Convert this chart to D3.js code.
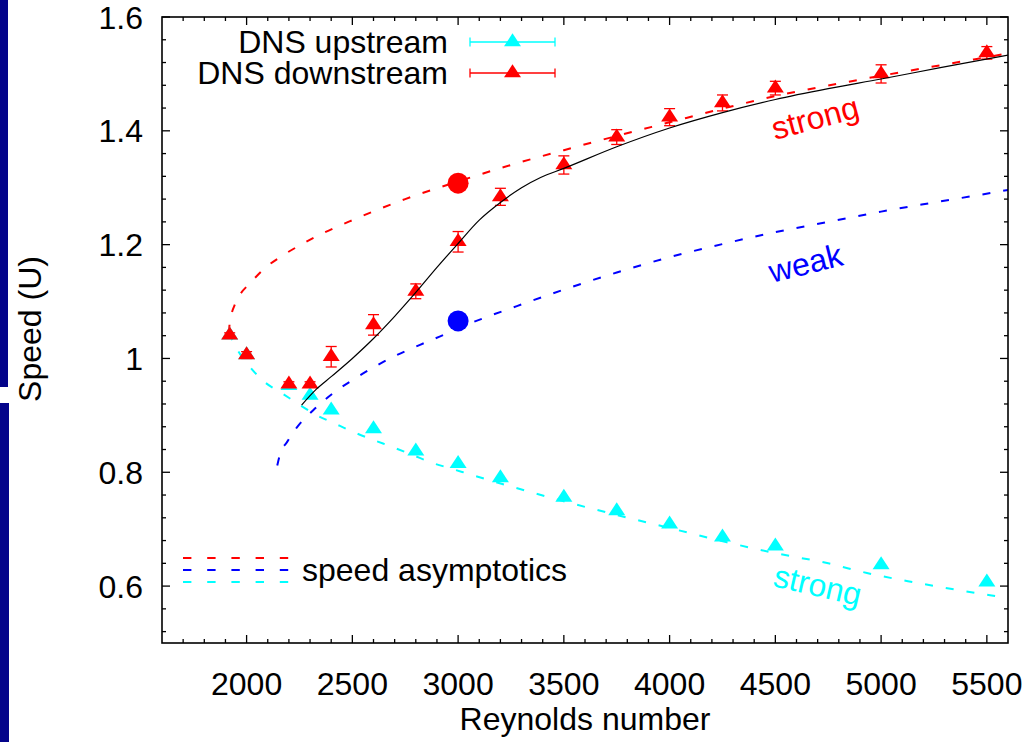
<!DOCTYPE html>
<html><head><meta charset="utf-8">
<script src="https://cdn.jsdelivr.net/npm/d3@7"></script>
<style>
html,body{margin:0;padding:0;background:#fff;}
svg{display:block;}
text{font-family:"Liberation Sans", Arial, Helvetica, sans-serif;}
</style></head><body>
<svg id="chart" width="1028" height="742"></svg>
<script>
// DNS runs, downstream speed with error bars
const reDown    = [1920, 2000, 2200, 2300, 2400, 2600, 2800, 3000, 3200, 3500, 3750, 4000, 4250, 4500, 5000, 5500];
const speedDown = [1.041, 1.006, 0.955, 0.955, 1.003, 1.059, 1.118, 1.205, 1.284, 1.340, 1.389, 1.424, 1.449, 1.475, 1.500, 1.537];
const errDown   = [0.004, 0.006, 0.004, 0.004, 0.018, 0.018, 0.013, 0.018, 0.015, 0.016, 0.013, 0.015, 0.014, 0.012, 0.016, 0.011];

// DNS runs, upstream speed
const reUp    = [1920, 2000, 2200, 2300, 2400, 2600, 2800, 3000, 3200, 3500, 3750, 4000, 4250, 4500, 5000, 5500];
const speedUp = [1.041, 1.006, 0.952, 0.935, 0.909, 0.876, 0.837, 0.815, 0.790, 0.756, 0.732, 0.709, 0.686, 0.670, 0.637, 0.607];

// Speed asymptotics: strong downstream branch
const strongDownRe = [1916, 1920, 1930, 1945, 1959, 2021, 2087, 2158, 2238, 2323, 2500, 2750, 3000, 3250, 3500, 3750, 4000, 4250, 4500, 4886, 5278, 5600];
const strongDownU  = [1.045, 1.062, 1.080, 1.095, 1.106, 1.134, 1.159, 1.178, 1.196, 1.213, 1.243, 1.280, 1.311, 1.340, 1.366, 1.391, 1.415, 1.439, 1.461, 1.489, 1.515, 1.536];

// Speed asymptotics: weak branch
const weakRe = [2145, 2160, 2191, 2238, 2315, 2409, 2522, 2617, 2711, 2820, 2929, 3000, 3136, 3278, 3500, 3750, 4000, 4250, 4500, 4750, 5000, 5250, 5538, 5600];
const weakU  = [0.812, 0.834, 0.853, 0.879, 0.909, 0.939, 0.967, 0.988, 1.006, 1.024, 1.041, 1.053, 1.073, 1.092, 1.121, 1.151, 1.178, 1.201, 1.222, 1.240, 1.258, 1.274, 1.292, 1.296];

// Speed asymptotics: strong upstream branch
const strongUpRe = [1916, 1935, 1960, 2016, 2087, 2167, 2252, 2333, 2409, 2503, 2598, 2692, 2787, 2882, 2962, 3250, 3500, 3750, 4000, 4271, 4498, 4750, 4933, 5151, 5350, 5515, 5600];
const strongUpU  = [1.045, 1.030, 1.013, 0.985, 0.958, 0.939, 0.918, 0.900, 0.887, 0.871, 0.857, 0.844, 0.830, 0.816, 0.807, 0.775, 0.749, 0.725, 0.702, 0.677, 0.658, 0.640, 0.623, 0.607, 0.594, 0.584, 0.579];

// Fit through the downstream speed
const fitRe = [2260, 2330, 2400, 2500, 2600, 2700, 2800, 2900, 3000, 3100, 3200, 3300, 3390, 3500, 3750, 4000, 4250, 4500, 4750, 5000, 5280, 5600];
const fitU  = [0.918, 0.946, 0.968, 1.000, 1.035, 1.074, 1.116, 1.160, 1.202, 1.243, 1.274, 1.300, 1.318, 1.334, 1.372, 1.405, 1.432, 1.455, 1.474, 1.491, 1.511, 1.533];

// Highlighted runs at Re = 3000
const markRe = [3000, 3000];
const markU  = [1.308, 1.066];
const markColor = ["#ff0000", "#0000ff"];

// Axis ticks
const xTicks = [2000, 2500, 3000, 3500, 4000, 4500, 5000, 5500];
const yTicks = [0.6, 0.8, 1.0, 1.2, 1.4, 1.6];

const svg = d3.select("#chart");
const W = 1028, H = 742;
const L = 162, R = 1008, T = 17, B = 643;
const FS = 32;

svg.append("rect").attr("width", W).attr("height", H).attr("fill", "#fff");

// side strip
svg.append("rect").attr("x", 0).attr("y", 0).attr("width", 8).attr("height", 387).attr("fill", "#04048a");
svg.append("rect").attr("x", 0).attr("y", 403).attr("width", 9).attr("height", H - 403).attr("fill", "#04048a");

const x = d3.scaleLinear().domain([1600, 5600]).range([L, R]);
const y = d3.scaleLinear().domain([0.5, 1.6]).range([B, T]);

const clipId = "plotclip";
svg.append("defs").append("clipPath").attr("id", clipId)
  .append("rect").attr("x", L).attr("y", T).attr("width", R - L).attr("height", B - T);

// ticks (inward, mirrored)
const xMinor = d3.range(1700, 5600, 100).filter(v => v % 500 !== 0);
const yMinor = d3.range(0.52, 1.6, 0.04).map(v => +v.toFixed(2)).filter(v => Math.abs(v * 5 - Math.round(v * 5)) > 1e-6);

const tk = svg.append("g").attr("stroke", "#000").attr("stroke-width", 1.3);
xTicks.forEach(v => {
  tk.append("line").attr("x1", x(v)).attr("x2", x(v)).attr("y1", B).attr("y2", B - 8);
  tk.append("line").attr("x1", x(v)).attr("x2", x(v)).attr("y1", T).attr("y2", T + 8);
});
xMinor.forEach(v => {
  tk.append("line").attr("x1", x(v)).attr("x2", x(v)).attr("y1", B).attr("y2", B - 4);
  tk.append("line").attr("x1", x(v)).attr("x2", x(v)).attr("y1", T).attr("y2", T + 4);
});
yTicks.forEach(v => {
  tk.append("line").attr("x1", L).attr("x2", L + 8).attr("y1", y(v)).attr("y2", y(v));
  tk.append("line").attr("x1", R).attr("x2", R - 8).attr("y1", y(v)).attr("y2", y(v));
});
yMinor.forEach(v => {
  tk.append("line").attr("x1", L).attr("x2", L + 4).attr("y1", y(v)).attr("y2", y(v));
  tk.append("line").attr("x1", R).attr("x2", R - 4).attr("y1", y(v)).attr("y2", y(v));
});

// tick labels
const lab = svg.append("g").attr("font-size", FS).attr("fill", "#000");
xTicks.forEach(v => {
  lab.append("text").attr("x", x(v)).attr("y", 695).attr("text-anchor", "middle").text(d3.format("d")(v));
});
yTicks.forEach(v => {
  lab.append("text").attr("x", 143).attr("y", y(v) + 11.5).attr("text-anchor", "end").text(d3.format("~g")(v));
});
lab.append("text").attr("x", (L + R) / 2).attr("y", 730).attr("text-anchor", "middle").text("Reynolds number");
lab.append("text").attr("transform", "translate(41," + 329 + ") rotate(-90)").attr("text-anchor", "middle").text("Speed (U)");

const area = svg.append("g").attr("clip-path", "url(#" + clipId + ")");

const line = d3.line().x(d => x(d[0])).y(d => y(d[1])).curve(d3.curveMonotoneX);
const zip = (a, b) => a.map((v, i) => [v, b[i]]);

// asymptotic curves
const dash = "8,13";
area.append("path").attr("d", line(zip(strongUpRe, strongUpU))).attr("fill", "none").attr("stroke", "#00ffff").attr("stroke-width", 2).attr("stroke-dasharray", dash);
area.append("path").attr("d", line(zip(weakRe, weakU))).attr("fill", "none").attr("stroke", "#0000ff").attr("stroke-width", 2).attr("stroke-dasharray", dash);
area.append("path").attr("d", line(zip(strongDownRe, strongDownU))).attr("fill", "none").attr("stroke", "#ff0000").attr("stroke-width", 2).attr("stroke-dasharray", dash);

// triangle with its centroid at (cx, cy)
const TW = 17, TH = 13;
function tri(cx, cy) {
  return "M" + cx + "," + (cy - TH * 2 / 3) + "L" + (cx - TW / 2) + "," + (cy + TH / 3) + "L" + (cx + TW / 2) + "," + (cy + TH / 3) + "Z";
}

// upstream points
reUp.forEach((r, i) => {
  area.append("path").attr("d", tri(x(r), y(speedUp[i]))).attr("fill", "#00ffff");
});

// downstream points with error bars
const eb = area.append("g").attr("stroke", "#ff0000").attr("stroke-width", 1.3);
reDown.forEach((r, i) => {
  const cx = x(r), y0 = y(speedDown[i] - errDown[i]), y1 = y(speedDown[i] + errDown[i]);
  eb.append("line").attr("x1", cx).attr("x2", cx).attr("y1", y0).attr("y2", y1);
  eb.append("line").attr("x1", cx - 5.5).attr("x2", cx + 5.5).attr("y1", y0).attr("y2", y0);
  eb.append("line").attr("x1", cx - 5.5).attr("x2", cx + 5.5).attr("y1", y1).attr("y2", y1);
});
reDown.forEach((r, i) => {
  area.append("path").attr("d", tri(x(r), y(speedDown[i]))).attr("fill", "#ff0000");
});

// highlighted runs
markRe.forEach((r, i) => {
  area.append("circle").attr("cx", x(r)).attr("cy", y(markU[i])).attr("r", 10.5).attr("fill", markColor[i]);
});

// fit
area.append("path").attr("d", line(zip(fitRe, fitU))).attr("fill", "none").attr("stroke", "#000").attr("stroke-width", 1.2);

// frame
svg.append("rect").attr("x", L).attr("y", T).attr("width", R - L).attr("height", B - T)
  .attr("fill", "none").attr("stroke", "#000").attr("stroke-width", 1.6);

// branch labels
const tl = svg.append("g").attr("font-size", FS);
tl.append("text").attr("transform", "translate(775,140) rotate(-15)").attr("fill", "#ff0000").text("strong");
tl.append("text").attr("transform", "translate(772,283) rotate(-14)").attr("fill", "#0000ff").text("weak");
tl.append("text").attr("transform", "translate(772,586) rotate(13)").attr("fill", "#00ffff").text("strong");

// key: DNS data
const keyRows = [
  {name: "DNS upstream", color: "#00ffff", cy: 42},
  {name: "DNS downstream", color: "#ff0000", cy: 73}
];
const key = svg.append("g");
keyRows.forEach(k => {
  key.append("text").attr("x", 448).attr("y", k.cy + 11).attr("text-anchor", "end").attr("font-size", FS).text(k.name);
  const g = key.append("g").attr("stroke", k.color).attr("stroke-width", 1.3);
  g.append("line").attr("x1", 470).attr("x2", 555).attr("y1", k.cy).attr("y2", k.cy);
  g.append("line").attr("x1", 470).attr("x2", 470).attr("y1", k.cy - 4.5).attr("y2", k.cy + 4.5);
  g.append("line").attr("x1", 555).attr("x2", 555).attr("y1", k.cy - 4.5).attr("y2", k.cy + 4.5);
  key.append("path").attr("d", tri(512.5, k.cy)).attr("fill", k.color);
});

// key: asymptotics
const asy = [["#ff0000", 558], ["#0000ff", 570], ["#00ffff", 582]];
asy.forEach(a => {
  svg.append("line").attr("x1", 183).attr("x2", 289).attr("y1", a[1]).attr("y2", a[1])
    .attr("stroke", a[0]).attr("stroke-width", 2).attr("stroke-dasharray", "8.4,15.8");
});
svg.append("text").attr("x", 302).attr("y", 581).attr("font-size", FS).text("speed asymptotics");
</script>
</body></html>
